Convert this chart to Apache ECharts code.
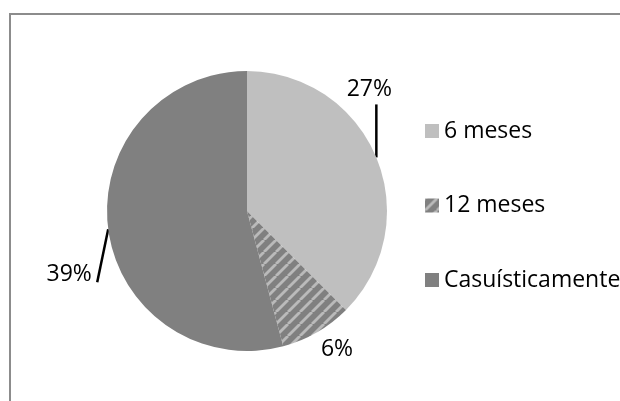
<!DOCTYPE html>
<html>
<head>
<meta charset="utf-8">
<script src="https://cdn.jsdelivr.net/npm/echarts@6/dist/echarts.min.js"></script>
<style>
  html, body { margin: 0; padding: 0; background: #fff; }
  #chart { width: 620px; height: 401px; }
</style>
</head>
<body>
<div id="chart"></div>
<script>
const categories = ['6 meses', '12 meses', 'Casuísticamente'];
const values = [27, 6, 39];

// label centre and leader-line end, relative to the slice's outer mid point
const labelShift = [[-7, -68], [20, 17], [-39, 45]];
const lineShift = [[0, -53], null, [-11, 53]];

function stripePattern() {
    const n = 12;
    const c = document.createElement('canvas');
    c.width = n;
    c.height = n;
    const ctx = c.getContext('2d');
    ctx.fillStyle = '#808080';
    ctx.fillRect(0, 0, n, n);
    ctx.strokeStyle = '#bababa';
    ctx.lineWidth = 2.8;
    [-n, 0, n].forEach(ox => {
        ctx.beginPath();
        ctx.moveTo(ox, n);
        ctx.lineTo(ox + n, 0);
        ctx.stroke();
    });
    return { image: c, repeat: 'repeat' };
}

const colors = ['#bfbfbf', stripePattern(), '#808080'];
const font = '"Open Sans", "Noto Sans", sans-serif';

const chart = echarts.init(document.getElementById('chart'));

chart.setOption({
    animation: false,
    backgroundColor: '#fff',
    graphic: [{
        type: 'rect',
        shape: { x: 10, y: 14, width: 700, height: 500 },
        style: { fill: 'none', stroke: '#8c8c8c', lineWidth: 2 },
        silent: true,
        z: -1
    }],
    legend: {
        orient: 'vertical',
        left: 425,
        top: 119,
        padding: 0,
        itemWidth: 14,
        itemHeight: 14,
        itemGap: 50.5,
        icon: 'rect',
        data: categories,
        textStyle: { fontFamily: font, fontSize: 23, lineHeight: 24, color: '#000' }
    },
    series: [{
        type: 'pie',
        center: [247, 211],
        radius: 140,
        startAngle: 90,
        clockwise: true,
        avoidLabelOverlap: false,
        data: categories.map((name, i) => ({
            name: name,
            value: values[i],
            itemStyle: { color: colors[i] }
        })),
        itemStyle: { borderWidth: 0 },
        label: {
            show: true,
            position: 'outside',
            formatter: '{c}%',
            fontFamily: font,
            fontSize: 23,
            color: '#000'
        },
        labelLine: {
            show: true,
            length: 10,
            length2: 10,
            lineStyle: { color: '#000', width: 2.5 }
        },
        labelLayout: function (params) {
            const pts = params.labelLinePoints;
            if (!pts) return {};
            const i = params.dataIndex;
            const s = pts[0];
            const res = {
                x: s[0] + labelShift[i][0],
                y: s[1] + labelShift[i][1],
                align: 'center',
                verticalAlign: 'middle'
            };
            const d = lineShift[i];
            res.labelLinePoints = d
                ? [[s[0], s[1]], [s[0] + d[0], s[1] + d[1]]]
                : [[s[0], s[1]], [s[0], s[1]]];
            return res;
        },
        emphasis: { disabled: true }
    }]
});
</script>
</body>
</html>
